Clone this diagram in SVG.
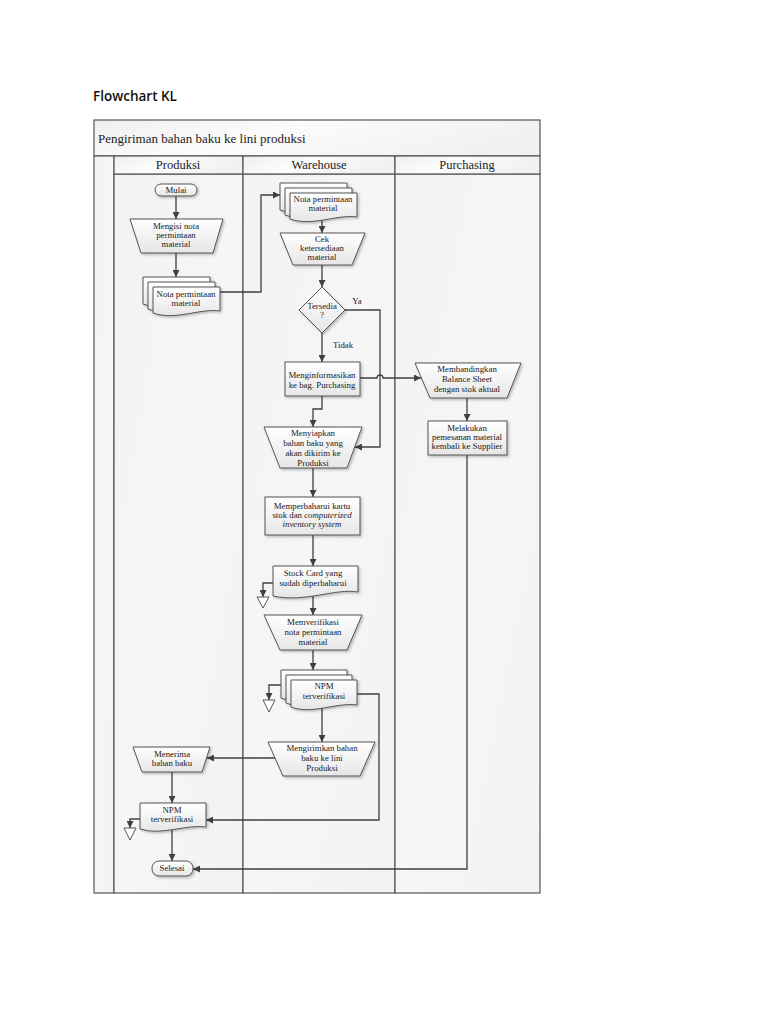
<svg xmlns="http://www.w3.org/2000/svg" width="768" height="1024" viewBox="0 0 768 1024">
<defs>
<linearGradient id="band" x1="0" y1="0" x2="1" y2="0.3">
<stop offset="0" stop-color="#efefef"/><stop offset="0.45" stop-color="#fcfcfc"/><stop offset="1" stop-color="#f1f1f1"/>
</linearGradient>
<linearGradient id="lane" x1="0" y1="0" x2="1" y2="1">
<stop offset="0" stop-color="#f2f2f2"/><stop offset="0.5" stop-color="#f6f6f6"/><stop offset="1" stop-color="#f2f2f2"/>
</linearGradient>
<linearGradient id="shp" x1="0" y1="0" x2="0" y2="1">
<stop offset="0" stop-color="#ffffff"/><stop offset="1" stop-color="#e6e6e6"/>
</linearGradient>
<filter id="sh" x="-20%" y="-20%" width="140%" height="150%">
<feDropShadow dx="1.5" dy="1.5" stdDeviation="0.8" flood-color="#000" flood-opacity="0.25"/>
</filter>
<marker id="ar" viewBox="0 0 10 10" refX="10" refY="5" markerWidth="8" markerHeight="7" markerUnits="userSpaceOnUse" orient="auto">
<path d="M0,0 L10,5 L0,10 Z" fill="#404040"/>
</marker>
</defs>
<style>
.lane{fill:url(#lane);stroke:#555;stroke-width:1.2}
.hdr{fill:url(#band);stroke:#555;stroke-width:1.2}
.s{fill:url(#shp);stroke:#555;stroke-width:1;filter:url(#sh)}
.c{fill:none;stroke:#404040;stroke-width:1.3}
.ca{fill:none;stroke:#404040;stroke-width:1.3;marker-end:url(#ar)}
.t{font-family:"Liberation Serif","Times New Roman",serif;font-size:8.8px;fill:#1a1a1a;text-anchor:middle}
.h{font-family:"Liberation Serif","Times New Roman",serif;font-size:12.5px;fill:#222;text-anchor:middle}
.op{fill:#fff;stroke:#555;stroke-width:1}
</style>
<rect width="768" height="1024" fill="#fff"/>
<text x="93" y="101" font-family="'Open Sans','Noto Sans',sans-serif" font-size="13.5" font-weight="600" fill="#111">Flowchart KL</text>

<g id="pool">
<rect class="hdr" x="94" y="120" width="446" height="36"/>
<text x="98" y="143" font-family="'Liberation Serif',serif" font-size="13" fill="#222">Pengiriman bahan baku ke lini produksi</text>
<rect class="lane" x="94" y="156" width="20" height="737"/>
<rect class="lane" x="114" y="174" width="129" height="719"/>
<rect class="lane" x="243" y="174" width="152" height="719"/>
<rect class="lane" x="395" y="174" width="145" height="719"/>
<rect class="hdr" x="114" y="156" width="129" height="18"/>
<rect class="hdr" x="243" y="156" width="152" height="18"/>
<rect class="hdr" x="395" y="156" width="145" height="18"/>
<text class="h" x="178" y="169">Produksi</text>
<text class="h" x="319" y="169">Warehouse</text>
<text class="h" x="467" y="169">Purchasing</text>
</g>

<g id="connectors">
<path class="ca" d="M176,196 V219"/>
<path class="ca" d="M176,253 V277"/>
<path class="ca" d="M220,292 H261 V195 H280"/>
<path class="ca" d="M322,221 V233"/>
<path class="ca" d="M322,265 V287"/>
<path class="ca" d="M322,333 V362"/>
<path class="ca" d="M345,310 H380 V447 H355"/>
<path class="ca" d="M360,378 H377 A3,3 0 0 1 383,378 H421"/>
<path class="ca" d="M322,396 V409 H313 V427"/>
<path class="ca" d="M313,468 V497"/>
<path class="ca" d="M313,535 V566"/>
<path class="ca" d="M273,583 H263 V597"/>
<path class="ca" d="M313,596 V615"/>
<path class="ca" d="M313,650 V670"/>
<path class="ca" d="M282,685 H269 V700"/>
<path class="ca" d="M357,694 H379 V820 H206"/>
<path class="ca" d="M322,708 V742"/>
<path class="ca" d="M275,758 H207"/>
<path class="ca" d="M172,772 V803"/>
<path class="ca" d="M140,819 H130 V828"/>
<path class="ca" d="M172,829 V861"/>
<path class="ca" d="M467,398 V421"/>
<path class="ca" d="M467,455 V869 H193"/>
</g>

<g id="mulai">
<rect class="s" x="155" y="184" width="42" height="12" rx="6"/>
<text class="t" x="176" y="193">Mulai</text>
</g>
<g id="mengisi">
<polygon class="s" points="130,219 223,219 213,253 141,253"/>
<text class="t" x="176" y="229">Mengisi nota</text>
<text class="t" x="176" y="238">permintaan</text>
<text class="t" x="176" y="247">material</text>
</g>
<g id="nota-produksi">
<path class="s" d="M143,277 H210 V302 C190,300 165,312 143,304 Z"/>
<path class="s" d="M148,282 H215 V307 C195,305 170,317 148,309 Z"/>
<path class="s" d="M153,287 H220 V311 C200,308 175,321 153,313 Z"/>
<text class="t" x="186" y="297">Nota permintaan</text>
<text class="t" x="186" y="306">material</text>
</g>
<g id="nota-warehouse">
<path class="s" d="M280,183 H347 V208 C327,206 302,218 280,210 Z"/>
<path class="s" d="M285,188 H352 V213 C332,211 307,223 285,215 Z"/>
<path class="s" d="M290,193 H357 V217 C337,214 312,227 290,219 Z"/>
<text class="t" x="323" y="202">Nota permintaan</text>
<text class="t" x="323" y="211">material</text>
</g>
<g id="cek">
<polygon class="s" points="280,233 365,233 352,265 293,265"/>
<text class="t" x="322" y="242">Cek</text>
<text class="t" x="322" y="251">ketersediaan</text>
<text class="t" x="322" y="260">material</text>
</g>
<g id="tersedia">
<polygon class="s" points="322,287 345,310 322,333 299,310"/>
<text class="t" x="322" y="309">Tersedia</text>
<text class="t" x="322" y="318">?</text>
<text class="t" x="357" y="304">Ya</text>
<text class="t" x="343" y="348">Tidak</text>
</g>
<g id="menginformasikan">
<rect class="s" x="285" y="362" width="75" height="34"/>
<text class="t" x="322" y="378">Menginformasikan</text>
<text class="t" x="322" y="388">ke bag. Purchasing</text>
</g>
<g id="menyiapkan">
<polygon class="s" points="264,427 362,427 347,468 280,468"/>
<text class="t" x="313" y="436">Menyiapkan</text>
<text class="t" x="313" y="446">bahan baku yang</text>
<text class="t" x="313" y="456">akan dikirim ke</text>
<text class="t" x="313" y="466">Produksi</text>
</g>
<g id="memperbaharui">
<rect class="s" x="265" y="497" width="95" height="38"/>
<text class="t" x="312" y="509">Memperbaharui kartu</text>
<text class="t" x="312" y="518">stok dan <tspan font-style="italic">computerized</tspan></text>
<text class="t" x="312" y="527" font-style="italic">inventory system</text>
</g>
<g id="stock-card">
<path class="s" d="M273,566 H358 V592 C335,588 305,603 273,596 Z"/>
<text class="t" x="313" y="576">Stock Card yang</text>
<text class="t" x="313" y="586">sudah diperbaharui</text>
</g>
<g id="off1"><polygon class="op" points="257,597 269,597 263,608"/></g>
<g id="memverifikasi">
<polygon class="s" points="264,615 362,615 347,650 280,650"/>
<text class="t" x="313" y="625">Memverifikasi</text>
<text class="t" x="313" y="635">nota permintaan</text>
<text class="t" x="313" y="645">material</text>
</g>
<g id="npm-warehouse">
<path class="s" d="M281,670 H347 V696 C327,694 302,706 281,698 Z"/>
<path class="s" d="M286,675 H352 V701 C332,699 307,711 286,703 Z"/>
<path class="s" d="M291,680 H357 V705 C337,702 312,715 291,707 Z"/>
<text class="t" x="324" y="689">NPM</text>
<text class="t" x="324" y="699">terverifikasi</text>
</g>
<g id="off2"><polygon class="op" points="263,700 275,700 269,712"/></g>
<g id="mengirimkan">
<polygon class="s" points="268,742 375,742 360,776 283,776"/>
<text class="t" x="322" y="751">Mengirimkan bahan</text>
<text class="t" x="322" y="761">baku ke lini</text>
<text class="t" x="322" y="771">Produksi</text>
</g>
<g id="menerima">
<polygon class="s" points="133,747 210,747 202,772 142,772"/>
<text class="t" x="172" y="757">Menerima</text>
<text class="t" x="172" y="766">bahan baku</text>
</g>
<g id="npm-produksi">
<path class="s" d="M140,803 H206 V827 C186,824 162,836 140,829 Z"/>
<text class="t" x="172" y="813">NPM</text>
<text class="t" x="172" y="822">terverifikasi</text>
</g>
<g id="off3"><polygon class="op" points="124,828 136,828 130,840"/></g>
<g id="selesai">
<rect class="s" x="152" y="861" width="41" height="15" rx="7"/>
<text class="t" x="172" y="871">Selesai</text>
</g>
<g id="membandingkan">
<polygon class="s" points="415,363 521,363 507,398 430,398"/>
<text class="t" x="467" y="372">Membandingkan</text>
<text class="t" x="467" y="382">Balance Sheet</text>
<text class="t" x="467" y="392">dengan stok aktual</text>
</g>
<g id="melakukan">
<rect class="s" x="428" y="421" width="79" height="34"/>
<text class="t" x="467" y="431">Melakukan</text>
<text class="t" x="467" y="440">pemesanan material</text>
<text class="t" x="467" y="449">kembali ke Supplier</text>
</g>
</svg>
